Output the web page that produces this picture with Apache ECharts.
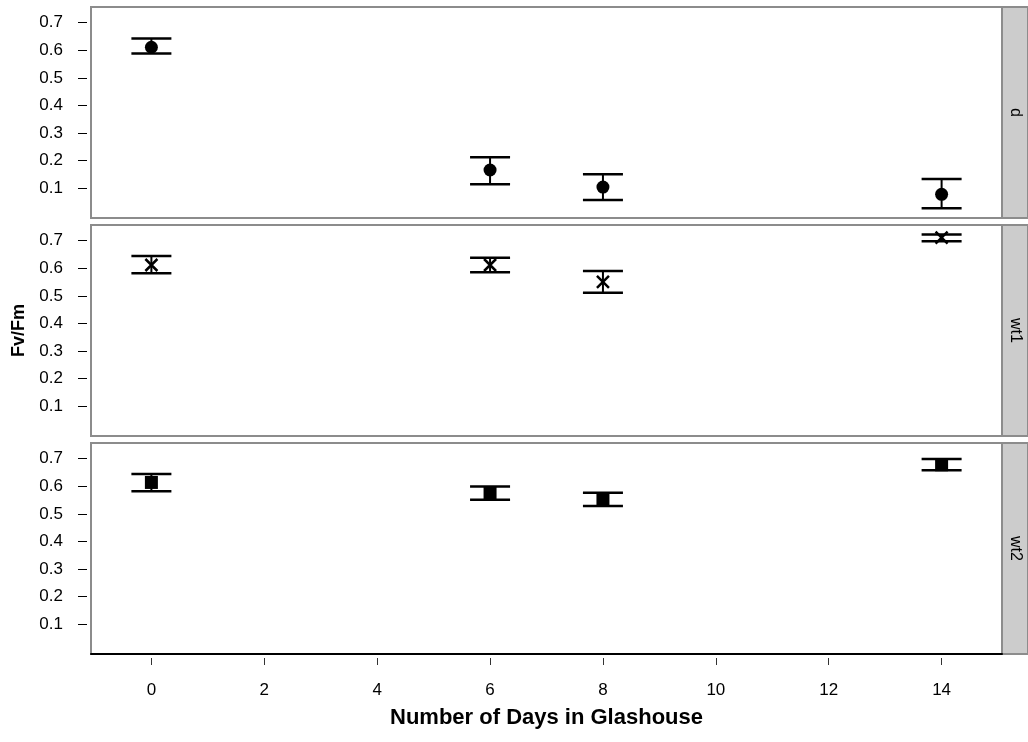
<!DOCTYPE html>
<html>
<head>
<meta charset="utf-8">
<script src="https://cdn.jsdelivr.net/npm/echarts@6/dist/echarts.min.js"></script>
<style>
  html, body { margin: 0; padding: 0; background: #ffffff; }
  #chart { width: 1028px; height: 742px; }
</style>
</head>
<body>
<div id="chart"></div>
<script>
// Days in glasshouse at which Fv/Fm was measured
const days = [0, 6, 8, 14];

// Panel names (strip labels)
const panelNames = ['d', 'wt1', 'wt2'];

// Line d: mean with lower / upper error limits
const meanD  = [0.611, 0.166, 0.104, 0.078];
const lowerD = [0.588, 0.114, 0.057, 0.027];
const upperD = [0.643, 0.212, 0.151, 0.133];

// Line wt1
const meanWt1  = [0.612, 0.612, 0.551, 0.711];
const lowerWt1 = [0.582, 0.586, 0.511, 0.698];
const upperWt1 = [0.645, 0.638, 0.590, 0.723];

// Line wt2
const meanWt2  = [0.614, 0.576, 0.555, 0.678];
const lowerWt2 = [0.582, 0.551, 0.529, 0.658];
const upperWt2 = [0.645, 0.599, 0.577, 0.699];

// Tick labels
const xTicks = [0, 2, 4, 6, 8, 10, 12, 14];
const yTicks = [0.1, 0.2, 0.3, 0.4, 0.5, 0.6, 0.7];

const FONT = '"Liberation Sans", Arial, sans-serif';
const X_MIN = -1.07, X_MAX = 15.07;
const Y_MIN = -0.008, Y_MAX = 0.757;

const panelMeans  = [meanD, meanWt1, meanWt2];
const panelLowers = [lowerD, lowerWt1, lowerWt2];
const panelUppers = [upperD, upperWt1, upperWt2];

// Panel geometry (left, width fixed; stacked vertically)
const gridLeft = 91, gridWidth = 911;
const gridTops = [7, 225, 443];
const gridHeight = 211;
const stripWidth = 26;

const crossPath = 'path://M0,0L10,10M10,0L0,10';
const markers = [
  { symbol: 'circle', size: 13, style: { color: '#000', opacity: 1 } },
  { symbol: crossPath, size: 12, style: { color: 'rgba(0,0,0,0)', borderColor: '#000', borderWidth: 2.5, opacity: 1 } },
  { symbol: 'rect', size: 13, style: { color: '#000', opacity: 1 } }
];

const grids = [], xAxes = [], yAxes = [], series = [], graphics = [];

panelNames.forEach((name, i) => {
  grids.push({
    left: gridLeft, top: gridTops[i], width: gridWidth, height: gridHeight,
    show: true, borderColor: '#8c8c8c', borderWidth: 2, backgroundColor: '#ffffff'
  });

  const isBottom = i === panelNames.length - 1;
  xAxes.push({
    type: 'value', gridIndex: i, min: X_MIN, max: X_MAX,
    show: isBottom, offset: 4, position: 'bottom',
    axisLine: { show: false, onZero: false },
    axisTick: { show: true, length: 7, customValues: xTicks, lineStyle: { color: '#333', width: 1 } },
    axisLabel: { show: true, customValues: xTicks, margin: 24, color: '#000',
                 fontFamily: FONT, fontSize: 17 },
    splitLine: { show: false }
  });

  yAxes.push({
    type: 'value', gridIndex: i, min: Y_MIN, max: Y_MAX, offset: 4, position: 'left',
    axisLine: { show: false, onZero: false },
    axisTick: { show: true, length: 9, customValues: yTicks, lineStyle: { color: '#000', width: 1 } },
    axisLabel: { show: true, customValues: yTicks, margin: 24, color: '#000',
                 fontFamily: FONT, fontSize: 17, formatter: v => v.toFixed(1) },
    splitLine: { show: false }
  });

  const rows = days.map((d, k) => [d, panelMeans[i][k], panelLowers[i][k], panelUppers[i][k]]);

  // Error bars: vertical stem plus horizontal caps at the lower and upper limits
  series.push({
    type: 'custom', xAxisIndex: i, yAxisIndex: i, z: 3,
    data: rows,
    renderItem: (params, api) => {
      const x = api.value(0);
      const lo = api.coord([x, api.value(2)]);
      const hi = api.coord([x, api.value(3)]);
      const half = 20;
      const style = { stroke: '#000', lineWidth: 2.5 };
      return {
        type: 'group',
        children: [
          { type: 'line', shape: { x1: lo[0], y1: lo[1], x2: hi[0], y2: hi[1] }, style: { stroke: '#000', lineWidth: 2 } },
          { type: 'line', shape: { x1: lo[0] - half, y1: lo[1], x2: lo[0] + half, y2: lo[1] }, style },
          { type: 'line', shape: { x1: hi[0] - half, y1: hi[1], x2: hi[0] + half, y2: hi[1] }, style }
        ]
      };
    }
  });

  // Mean markers
  series.push({
    type: 'scatter', xAxisIndex: i, yAxisIndex: i, z: 4,
    symbol: markers[i].symbol, symbolSize: markers[i].size,
    itemStyle: markers[i].style,
    data: rows.map(r => [r[0], r[1]]),
    silent: true
  });

  // Strip on the right side of the panel
  graphics.push({
    type: 'rect',
    shape: { x: gridLeft + gridWidth, y: gridTops[i], width: stripWidth, height: gridHeight },
    style: { fill: '#cccccc', stroke: '#8c8c8c', lineWidth: 2 }
  });
  graphics.push({
    type: 'text',
    x: gridLeft + gridWidth + 13, y: gridTops[i] + gridHeight / 2,
    rotation: -Math.PI / 2,
    style: { text: name, fontFamily: FONT, fontSize: 16, fill: '#000',
             align: 'center', verticalAlign: 'middle' }
  });
});

// Solid black baseline under the bottom panel
xAxes.push({
  type: 'value', gridIndex: 2, min: X_MIN, max: X_MAX, position: 'bottom',
  axisLine: { show: true, onZero: false, lineStyle: { color: '#000', width: 2 } },
  axisTick: { show: false }, axisLabel: { show: false }, splitLine: { show: false }, z: 5
});

// Axis titles
graphics.push({
  type: 'text', x: gridLeft + gridWidth / 2, y: 718,
  style: { text: 'Number of Days in Glashouse', fontFamily: FONT, fontSize: 22, fontWeight: 'bold',
           fill: '#000', align: 'center', verticalAlign: 'middle' }
});
graphics.push({
  type: 'text', x: 19, y: (gridTops[0] + gridTops[2] + gridHeight) / 2,
  rotation: Math.PI / 2,
  style: { text: 'Fv/Fm', fontFamily: FONT, fontSize: 18, fontWeight: 'bold',
           fill: '#000', align: 'center', verticalAlign: 'middle' }
});

const chart = echarts.init(document.getElementById('chart'), null, { renderer: 'canvas' });
chart.setOption({
  animation: false,
  backgroundColor: '#ffffff',
  grid: grids,
  xAxis: xAxes,
  yAxis: yAxes,
  series: series,
  graphic: graphics
});
</script>
</body>
</html>
